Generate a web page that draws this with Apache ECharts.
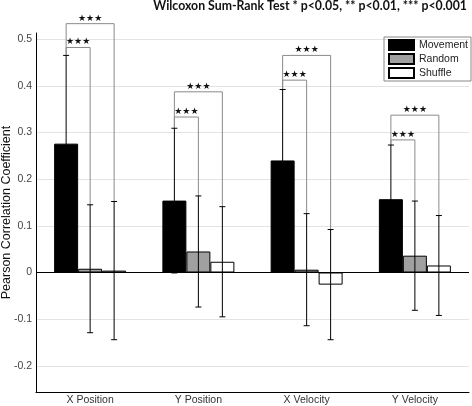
<!DOCTYPE html>
<html>
<head>
<meta charset="utf-8">
<script src="https://cdn.jsdelivr.net/npm/echarts@6/dist/echarts.min.js"></script>
<style>
  html, body { margin: 0; padding: 0; background: #fff; }
  #chart { width: 472px; height: 406px; }
</style>
</head>
<body>
<div id="chart"></div>
<script>
const categories = ["X Position", "Y Position", "X Velocity", "Y Velocity"];
const movement = [0.276, 0.154, 0.240, 0.157];
const movementErr = [0.189, 0.155, 0.152, 0.116];
const random = [0.008, 0.045, 0.006, 0.036];
const randomErr = [0.137, 0.119, 0.120, 0.117];
const shuffle = [0.004, 0.023, -0.026, 0.015];
const shuffleErr = [0.148, 0.118, 0.118, 0.107];
// significance brackets (movement vs random, movement vs shuffle)
const innerBracket = [0.482, 0.333, 0.412, 0.284];
const outerBracket = [0.533, 0.387, 0.465, 0.337];
const starLabel = "★★★";

const GAP = 0.335;
const font = "Liberation Sans";

const chart = echarts.init(document.getElementById("chart"));

// x position of bar k (0,1,2) in category i
function barX(api, i, k) {
    const band = api.size([1, 0])[0];
    const bw = band * (1 - GAP) / 3;
    return api.coord([i, 0])[0] + (k - 1) * bw;
}

function errorRender(k) {
    return function(params, api) {
        const i = api.value(0);
        const x = barX(api, i, k);
        const top = api.coord([i, api.value(2)])[1];
        const bot = api.coord([i, api.value(1)])[1];
        const style = { stroke: "#000", lineWidth: 1 };
        return {
            type: "group",
            children: [
                { type: "line", shape: { x1: x, y1: top, x2: x, y2: bot }, style },
                { type: "line", shape: { x1: x - 3, y1: top, x2: x + 3, y2: top }, style },
                { type: "line", shape: { x1: x - 3, y1: bot, x2: x + 3, y2: bot }, style }
            ]
        };
    };
}

function bracketRender(params, api) {
    const i = api.value(0);
    const k = api.value(4);
    const xl = barX(api, i, 0);
    const xr = barX(api, i, k);
    const yb = api.coord([i, api.value(1)])[1];
    const yl = api.coord([i, api.value(2)])[1];
    const yr = api.coord([i, api.value(3)])[1];
    const style = { stroke: "#8a8a8a", lineWidth: 1, fill: null };
    return {
        type: "group",
        children: [
            { type: "polyline", shape: { points: [[xl, yl], [xl, yb], [xr, yb], [xr, yr]] }, style },
            {
                type: "text",
                x: (xl + xr) / 2,
                y: yb - 1,
                style: {
                    text: starLabel,
                    fill: "#111",
                    font: "9px DejaVu Sans",
                    align: "center",
                    verticalAlign: "bottom"
                }
            }
        ]
    };
}

const errData = (m, e) => m.map((v, i) => [i, v - e[i], v + e[i]]);
const bracketData = [];
categories.forEach((c, i) => {
    bracketData.push([i, innerBracket[i], movement[i] + movementErr[i], random[i] + randomErr[i], 1]);
    bracketData.push([i, outerBracket[i], movement[i] + movementErr[i], shuffle[i] + shuffleErr[i], 2]);
});

chart.setOption({
    animation: false,
    title: {
        text: "Wilcoxon Sum-Rank Test * p<0.05, ** p<0.01, *** p<0.001",
        right: 5,
        top: 0,
        padding: 0,
        textStyle: { fontFamily: "Lato", fontWeight: "bold", fontSize: 12.3, color: "#111" }
    },
    legend: {
        orient: "vertical",
        left: 384,
        top: 37,
        padding: [2, 3, 2, 4],
        itemGap: 2,
        itemWidth: 25,
        itemHeight: 10,
        borderColor: "#888",
        borderWidth: 1,
        borderRadius: 0,
        icon: "rect",
        textStyle: { fontFamily: font, fontSize: 10.5, color: "#222", lineHeight: 11 },
        data: ["Movement", "Random", "Shuffle"]
    },
    grid: { left: 36, right: 3, top: 33, bottom: 14, outerBoundsMode: "none" },
    xAxis: {
        type: "category",
        data: categories,
        axisLine: { onZero: false, lineStyle: { color: "#000" } },
        axisTick: { show: false },
        axisLabel: { fontFamily: font, fontSize: 10.5, color: "#333", margin: 3 }
    },
    yAxis: {
        type: "value",
        min: -0.256,
        max: 0.513,
        minInterval: 0.1,
        maxInterval: 0.1,
        name: "Pearson Correlation Coefficient",
        nameLocation: "middle",
        nameGap: 29,
        nameMoveOverlap: false,
        nameTextStyle: { fontFamily: font, fontSize: 12.5, color: "#111", verticalAlign: "middle" },
        axisLine: { show: true, lineStyle: { color: "#000" } },
        axisTick: { show: false },
        axisLabel: {
            fontFamily: font, fontSize: 10.5, color: "#444", margin: 4,
            showMinLabel: false, showMaxLabel: false,
            formatter: v => (Math.abs(v) < 1e-9 ? "0" : String(Math.round(v * 10) / 10))
        },
        splitLine: { show: true, showMinLine: false, showMaxLine: false, lineStyle: { color: "#e3e3e3" } }
    },
    series: [
        {
            name: "Movement",
            type: "bar",
            data: movement,
            barGap: 0,
            barCategoryGap: (GAP * 100) + "%",
            itemStyle: { color: "#000", borderColor: "#000", borderWidth: 1 },
            markLine: {
                silent: true,
                symbol: "none",
                label: { show: false },
                lineStyle: { color: "#000", type: "solid", width: 1 },
                data: [{ yAxis: 0 }]
            }
        },
        {
            name: "Random",
            type: "bar",
            data: random,
            barGap: 0,
            barCategoryGap: (GAP * 100) + "%",
            itemStyle: { color: "#a0a0a0", borderColor: "#000", borderWidth: 1 }
        },
        {
            name: "Shuffle",
            type: "bar",
            data: shuffle,
            barGap: 0,
            barCategoryGap: (GAP * 100) + "%",
            itemStyle: { color: "#fff", borderColor: "#000", borderWidth: 1 }
        },
        { type: "custom", renderItem: errorRender(0), data: errData(movement, movementErr), z: 5, silent: true },
        { type: "custom", renderItem: errorRender(1), data: errData(random, randomErr), z: 5, silent: true },
        { type: "custom", renderItem: errorRender(2), data: errData(shuffle, shuffleErr), z: 5, silent: true },
        { type: "custom", renderItem: bracketRender, data: bracketData, clip: false, z: 4, silent: true }
    ]
});
</script>
</body>
</html>
